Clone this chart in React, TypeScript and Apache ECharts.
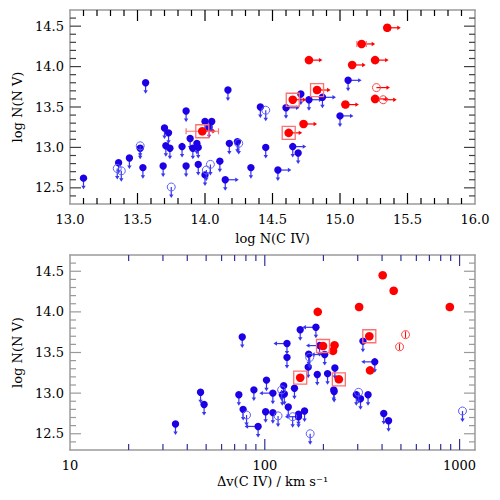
import React, { useEffect, useRef } from "react";
import * as echarts from "echarts";

// ---------- data ----------
// top panel: log N(C IV) vs log N(N V)
const TOP_BLUE_UL: number[][] = [
  [13.10, 12.62], [13.36, 12.81], [13.44, 12.87], [13.52, 12.99], [13.54, 12.75], [13.56, 13.80],
  [13.69, 12.77], [13.70, 13.24], [13.73, 13.18], [13.71, 13.02], [13.74, 12.99], [13.83, 13.01],
  [13.86, 13.45], [13.86, 12.77], [13.89, 13.11], [13.91, 12.99], [13.94, 13.05], [13.95, 13.00],
  [13.95, 12.79], [14.00, 13.32], [14.03, 13.25], [14.05, 13.32], [14.00, 12.66], [14.11, 12.83],
  [14.17, 13.71], [14.18, 13.05], [14.24, 13.07], [14.34, 12.75], [14.41, 13.50], [14.45, 13.00],
  [14.69, 12.93], [14.71, 13.66],
];
const TOP_BLUE_UL_LL: number[][] = [
  [14.15, 12.60], [14.54, 12.72], [14.60, 13.49], [14.65, 13.01], [14.77, 13.59], [14.87, 13.62],
  [15.00, 13.39], [15.06, 13.83],
];
const TOP_BLUE_OPEN: number[][] = [
  [13.35, 12.74], [13.38, 12.71], [13.52, 13.02], [13.75, 12.51], [14.01, 12.72], [14.04, 12.79],
  [14.25, 13.05], [14.45, 13.46],
];
// [x, y, xErr]
const TOP_RED_LL: number[][] = [
  [14.73, 13.29, 0], [14.77, 14.08, 0], [15.04, 13.53, 0], [15.09, 14.02, 0], [15.16, 14.28, 0.035],
  [15.26, 14.08, 0], [15.26, 13.60, 0], [15.35, 14.48, 0],
];
const TOP_RED_LL_BOXED: number[][] = [
  [13.98, 13.20, 0.12], [14.62, 13.18, 0], [14.65, 13.59, 0], [14.83, 13.71, 0],
];
const TOP_RED_OPEN_LL: number[][] = [[15.27, 13.74], [15.32, 13.59]];

// bottom panel: Δv(C IV) [km/s] vs log N(N V)
const BOT_BLUE_UL: number[][] = [
  [34.8, 12.62], [46.8, 13.01], [48.8, 12.86], [76.6, 13.69], [73.6, 12.98], [77.4, 12.80],
  [87.9, 13.04], [102, 13.16], [101, 12.77], [110, 12.76], [125, 13.09], [123, 12.98],
  [126, 12.99], [130, 13.44], [132, 12.83], [142, 13.06], [149, 12.74], [160, 12.78],
  [152, 13.78], [167, 13.32], [168, 13.48], [186, 13.23], [210, 13.24], [229, 13.31],
  [226, 13.04], [227, 13.02], [295, 12.98], [310, 12.93], [339, 12.98], [319, 13.64],
  [408, 12.75], [432, 12.66],
];
const BOT_BLUE_UL_UL: number[][] = [
  [92.4, 12.59], [110, 13.00], [130, 13.61], [183, 13.81], [203, 13.475], [191, 13.585],
  [367, 13.385], [149, 12.71],
];
const BOT_BLUE_OPEN: number[][] = [
  [80.6, 12.73], [117, 12.72], [122, 13.04], [139, 12.71], [170, 13.44], [171, 12.50],
  [303, 13.01], [1035, 12.78],
];
const BOT_RED: number[][] = [
  [187, 14.00], [305, 14.06], [403, 14.45], [459, 14.26], [891, 14.06], [228, 13.59],
  [224, 13.52], [347, 13.28],
];
const BOT_RED_BOXED: number[][] = [[344, 13.70], [199, 13.58], [152, 13.19], [240, 13.17]];
// [x, y, yErr]
const BOT_RED_OPEN: number[][] = [[528, 13.72, 0.04], [492, 13.57, 0.04]];

// ---------- axis ticks ----------
const TOP_X_MAJOR = [13.5, 14.0, 14.5, 15.0, 15.5];
const TOP_X_MINOR = [
  13.1, 13.2, 13.3, 13.4, 13.6, 13.7, 13.8, 13.9, 14.1, 14.2, 14.3, 14.4, 14.6, 14.7, 14.8, 14.9,
  15.1, 15.2, 15.3, 15.4, 15.6, 15.7, 15.8, 15.9,
];
const BOT_X_MAJOR = [100, 1000];
const BOT_X_MINOR = [20, 30, 40, 50, 60, 70, 80, 90, 200, 300, 400, 500, 600, 700, 800, 900];
const Y_MAJOR = [12.5, 13.0, 13.5, 14.0, 14.5];
const Y_MINOR = [
  12.4, 12.6, 12.7, 12.8, 12.9, 13.1, 13.2, 13.3, 13.4, 13.6, 13.7, 13.8, 13.9, 14.1, 14.2, 14.3,
  14.4, 14.6,
];

// ---------- styling ----------
const DOWN = 1, RIGHT = 2, LEFT = 4, OPEN = 8, RED = 16, BOX = 32;
const BLUE_COL = "#1c00e6";
const BLUE_ARROW = "#3636f2";
const BLUE_OPEN = "#6060ff";
const RED_COL = "#ff0000";
const RED_LIGHT = "#ff7070";
const FONT = "DejaVu Serif";
const FRAME = "#9a9a9a";

function renderItem(params: any, api: any) {
  const x = api.value(0), y = api.value(1);
  const code = api.value(2) as number;
  const err = api.value(3) as number;
  const p = api.coord([x, y]);
  const px = p[0], py = p[1];
  const isRed = (code & RED) !== 0;
  const col = isRed ? RED_COL : BLUE_COL;
  const aCol = isRed ? RED_COL : BLUE_ARROW;
  const ch: any[] = [];
  const arrowLine = (x1: number, y1: number, x2: number, y2: number) =>
    ch.push({ type: "line", shape: { x1, y1, x2, y2 }, style: { stroke: aCol, lineWidth: 1.2 } });
  const head = (pts: number[][]) => ch.push({ type: "polygon", shape: { points: pts }, style: { fill: aCol } });
  if (code & DOWN) {
    arrowLine(px, py, px, py + 9);
    head([[px - 2.2, py + 7.5], [px + 2.2, py + 7.5], [px, py + 11]]);
  }
  if (code & RIGHT) {
    arrowLine(px, py, px + 11, py);
    head([[px + 10, py - 2.2], [px + 10, py + 2.2], [px + 13.5, py]]);
  }
  if (code & LEFT) {
    arrowLine(px, py, px - 11, py);
    head([[px - 10, py - 2.2], [px - 10, py + 2.2], [px - 13.5, py]]);
  }
  if (err && !(code & OPEN)) {
    const a = api.coord([x - err, y]);
    const b = api.coord([x + err, y]);
    ch.push({ type: "line", shape: { x1: a[0], y1: py, x2: b[0], y2: py }, style: { stroke: RED_LIGHT, lineWidth: 1.2 } });
    ch.push({ type: "line", shape: { x1: a[0], y1: py - 3, x2: a[0], y2: py + 3 }, style: { stroke: RED_LIGHT, lineWidth: 1.2 } });
    ch.push({ type: "line", shape: { x1: b[0], y1: py - 3, x2: b[0], y2: py + 3 }, style: { stroke: RED_LIGHT, lineWidth: 1.2 } });
  }
  if (err && code & OPEN) {
    const a = api.coord([x, y - err]);
    const b = api.coord([x, y + err]);
    ch.push({ type: "line", shape: { x1: px, y1: a[1], x2: px, y2: b[1] }, style: { stroke: RED_COL, lineWidth: 1 } });
  }
  if (code & OPEN) {
    ch.push({
      type: "circle",
      shape: { cx: px, cy: py, r: 4 },
      style: { fill: "none", stroke: isRed ? "#ff4040" : BLUE_OPEN, lineWidth: 1 },
    });
  } else {
    ch.push({ type: "circle", shape: { cx: px, cy: py, r: isRed ? 4.3 : 3.7 }, style: { fill: col } });
  }
  if (code & BOX) {
    ch.push({
      type: "rect",
      shape: { x: px - 6.5, y: py - 6.5, width: 13, height: 13 },
      style: { fill: "none", stroke: RED_LIGHT, lineWidth: 1.3 },
    });
  }
  return { type: "group", children: ch };
}

// tick marks on all four sides; kind: 0 x-major, 1 x-minor, 2 y-major, 3 y-minor
// tick shapes are drawn as thin filled rectangles
function makeTickRender(xColor: string, yColor: string) {
  return function tickRender(params: any, api: any) {
    const kind = api.value(2) as number;
    const p = api.coord([api.value(0), api.value(1)]);
    const len = kind === 0 || kind === 2 ? 11 : 6;
    const w = 1.2;
    if (kind < 2) {
      const b = api.coord([api.value(0), 12.3]);
      const t = api.coord([api.value(0), 14.7]);
      return {
        type: "group",
        children: [
          { type: "rect", shape: { x: p[0] - w / 2, y: b[1] - len, width: w, height: len }, style: { fill: xColor } },
          { type: "rect", shape: { x: p[0] - w / 2, y: t[1], width: w, height: len }, style: { fill: xColor } },
        ],
      };
    }
    const r = api.coord([api.value(4), api.value(1)])[0];
    return {
      type: "group",
      children: [
        { type: "rect", shape: { x: p[0], y: p[1] - w / 2, width: len, height: w }, style: { fill: yColor } },
        { type: "rect", shape: { x: r - len, y: p[1] - w / 2, width: len, height: w }, style: { fill: yColor } },
      ],
    };
  };
}

function rows(list: number[][], code: number) {
  return list.map((r) => [r[0], r[1], code, r[2] || 0]);
}

function tickRows(xMajor: number[], xMinor: number[], xMin: number, xMax: number) {
  return [
    ...xMajor.map((v) => [v, 13, 0, 0, xMax]),
    ...xMinor.map((v) => [v, 13, 1, 0, xMax]),
    ...Y_MAJOR.map((v) => [xMin, v, 2, 0, xMax]),
    ...Y_MINOR.map((v) => [xMin, v, 3, 0, xMax]),
  ];
}

export default function App() {
  const ref = useRef<HTMLDivElement>(null);
  useEffect(() => {
    document.body.style.margin = "0";
    const chart = echarts.init(ref.current!, null, { renderer: "svg" });
    const labelStyle = { fontFamily: FONT, fontSize: 13, color: "#000" };
    const frameLine = { show: true, lineStyle: { color: FRAME, width: 1.5 } };

    const linX = (grid: number, pos: string, labels: boolean) => ({
      type: "value", gridIndex: grid, position: pos, min: 13, max: 16, interval: 0.5,
      axisLine: frameLine,
      axisTick: { show: false },
      axisLabel: labels
        ? { show: true, ...labelStyle, margin: 9, formatter: (v: number) => v.toFixed(1) }
        : { show: false },
      splitLine: { show: false },
      ...(labels ? { name: "log N(C IV)", nameLocation: "middle", nameGap: 28, nameTextStyle: labelStyle } : {}),
    });
    const logX = (grid: number, pos: string, labels: boolean) => ({
      type: "log", logBase: 10, gridIndex: grid, position: pos, min: 10, max: 1200,
      axisLine: frameLine,
      axisTick: { show: false },
      axisLabel: labels
        ? { show: true, ...labelStyle, margin: 9, formatter: (v: number) => String(Math.round(v)) }
        : { show: false },
      splitLine: { show: false },
      ...(labels
        ? { name: "Δv(C IV) / km s⁻¹", nameLocation: "middle", nameGap: 25, nameTextStyle: labelStyle }
        : {}),
    });
    const yAx = (grid: number, pos: string, labels: boolean) => ({
      type: "value", gridIndex: grid, position: pos, min: 12.3, max: 14.7,
      axisLine: frameLine,
      axisTick: { show: false },
      axisLabel: labels
        ? { show: true, ...labelStyle, margin: 6, formatter: (v: number) => v.toFixed(1), customValues: Y_MAJOR }
        : { show: false },
      splitLine: { show: false },
      ...(labels
        ? { name: "log N(N V)", nameLocation: "middle", nameGap: 46, nameRotate: 90, nameTextStyle: labelStyle }
        : {}),
    });

    const custom = (xi: number, yi: number, data: any[], z: number, render: any) => ({
      type: "custom", xAxisIndex: xi, yAxisIndex: yi, renderItem: render, data, z,
      encode: { x: 0, y: 1 }, clip: false, silent: true,
    });

    chart.setOption({
      animation: false,
      backgroundColor: "#fff",
      grid: [
        { left: 70, top: 10, width: 405, height: 194 },
        { left: 70, top: 255, width: 405, height: 195 },
      ],
      xAxis: [linX(0, "bottom", true), linX(0, "top", false), logX(1, "bottom", true), logX(1, "top", false)],
      yAxis: [yAx(0, "left", true), yAx(0, "right", false), yAx(1, "left", true), yAx(1, "right", false)],
      series: [
        custom(0, 0, tickRows(TOP_X_MAJOR, TOP_X_MINOR, 13, 16), 5, makeTickRender("#000000", "#404040")),
        custom(2, 2, tickRows(BOT_X_MAJOR, BOT_X_MINOR, 10, 1200), 5, makeTickRender("#30309a", "#9a9a9a")),
        custom(0, 0, [
          ...rows(TOP_BLUE_UL, DOWN),
          ...rows(TOP_BLUE_UL_LL, DOWN | RIGHT),
          ...rows(TOP_BLUE_OPEN, DOWN | OPEN),
        ], 2, renderItem),
        custom(0, 0, [
          ...rows(TOP_RED_LL, RED | RIGHT),
          ...rows(TOP_RED_LL_BOXED, RED | RIGHT | BOX),
          ...rows(TOP_RED_OPEN_LL, RED | RIGHT | OPEN),
        ], 3, renderItem),
        custom(2, 2, [
          ...rows(BOT_BLUE_UL, DOWN),
          ...rows(BOT_BLUE_UL_UL, DOWN | LEFT),
          ...rows(BOT_BLUE_OPEN, DOWN | OPEN),
        ], 2, renderItem),
        custom(2, 2, [
          ...rows(BOT_RED, RED),
          ...rows(BOT_RED_BOXED, RED | BOX),
          ...rows(BOT_RED_OPEN, RED | OPEN),
        ], 3, renderItem),
      ],
    });
    return () => chart.dispose();
  }, []);
  return <div ref={ref} style={{ width: 500, height: 500 }} />;
}
